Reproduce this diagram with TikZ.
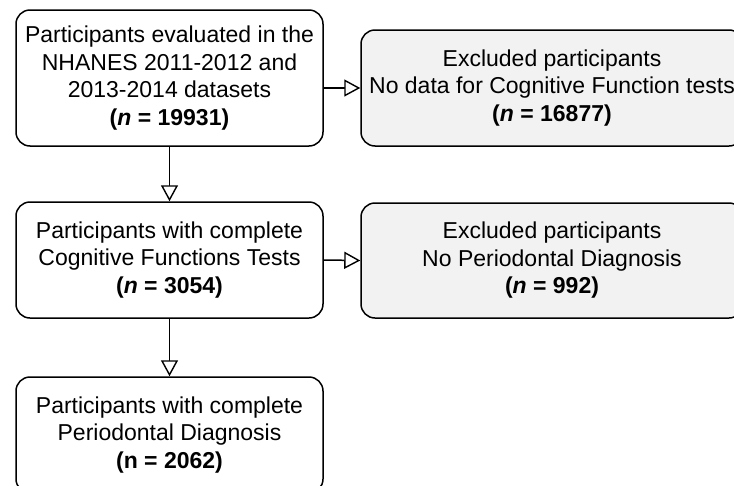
\documentclass[tikz,border=0pt]{standalone}
\usepackage{fontspec}
\setmainfont{Liberation Sans}
\usetikzlibrary{arrows.meta}
\definecolor{exgray}{HTML}{F2F2F2}
\tikzset{
  flowbox/.style={draw=black, line width=1.5pt, rounded corners=14pt, align=center,
    inner sep=0pt, font=\fontsize{23}{27.5}\selectfont, fill=white},
  exbox/.style={flowbox, fill=exgray},
  arr/.style={draw=black, line width=1.5pt,
    -{Triangle[open, length=16pt, width=17pt, fill=white, line width=1.4pt]}}
}
\begin{document}
\begin{tikzpicture}[x=1pt,y=-1pt]
\useasboundingbox (0,0) rectangle (734,485);
\clip (0,0) rectangle (734,485);
\node[flowbox, minimum width=307pt, minimum height=136pt] (b1) at (169.5,78)
  {Participants evaluated in the\\NHANES 2011-2012 and\\2013-2014 datasets\\\textbf{(\textit{n} = 19931)}};
\node[exbox, minimum width=382pt, minimum height=116pt] (b2) at (552,88)
  {Excluded participants\\No data for Cognitive Function tests\\\textbf{(\textit{n} = 16877)}};
\node[flowbox, minimum width=307pt, minimum height=116pt] (b3) at (169.5,260)
  {Participants with complete\\Cognitive Functions Tests\\\textbf{(\textit{n} = 3054)}};
\node[exbox, minimum width=382pt, minimum height=115pt] (b4) at (552,260.5)
  {Excluded participants\\No Periodontal Diagnosis\\\textbf{(\textit{n} = 992)}};
\node[flowbox, minimum width=307pt, minimum height=116pt] (b5) at (169.5,435)
  {Participants with complete\\Periodontal Diagnosis\\\textbf{(n = 2062)}};
\draw[arr] (b1.south) -- (b3.north);
\draw[arr] (b1.east |- b2.west) -- (b2.west);
\draw[arr] (b3.east) -- (b4.west);
\draw[arr] (b3.south) -- (b5.north);
\end{tikzpicture}
\end{document}
